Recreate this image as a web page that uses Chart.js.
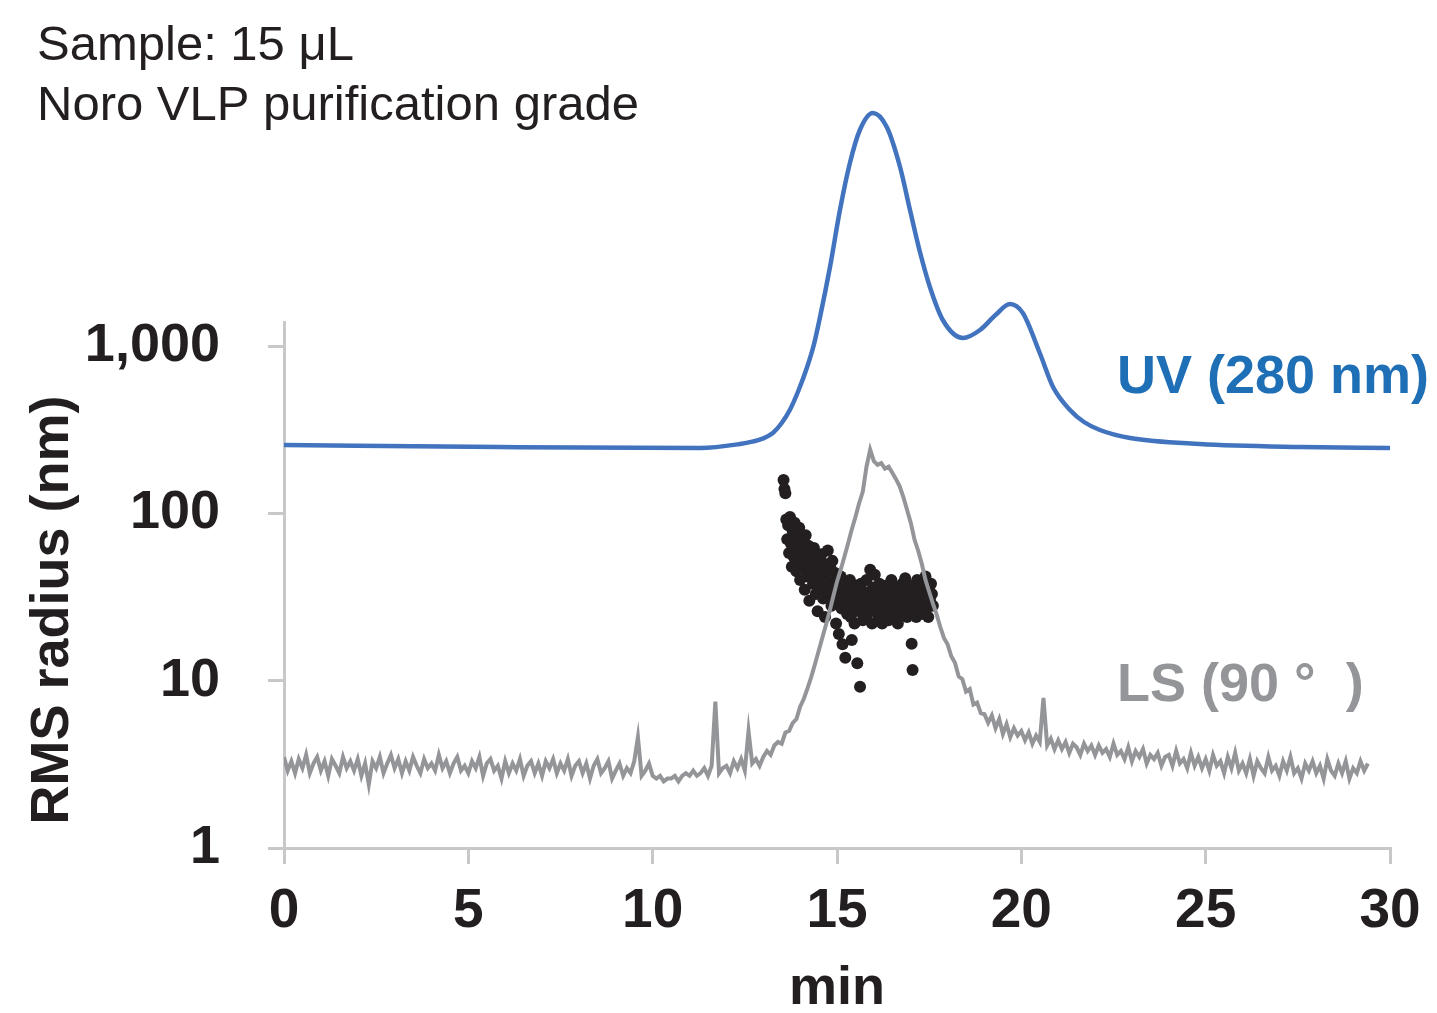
<!DOCTYPE html>
<html>
<head>
<meta charset="utf-8">
<script src="https://cdn.jsdelivr.net/npm/chart.js@4"></script>
<style>
  body { margin: 0; background: #fff; }
  #wrap { width: 1437px; height: 1013px; }
</style>
</head>
<body>
<div id="wrap"><canvas id="secChart"></canvas></div>
<script>
// axis ticks
const xTicks = [0, 5, 10, 15, 20, 25, 30];
const yTicks = [1, 10, 100, 1000];

// LS (90°) trace, one reading every 0.1 min starting at 0 min
const lsStart = 0;
const lsStep = 0.1;
const lsSignal = [
  3.5, 2.9, 3.3, 2.8, 3.4, 3.0, 3.6, 2.8, 3.2, 3.5,
  2.9, 3.3, 2.7, 3.4, 3.1, 2.8, 3.5, 3.0, 3.3, 2.9,
  3.4, 2.7, 3.2, 2.4, 3.3, 3.0, 3.5, 2.8, 3.2, 3.6,
  3.0, 3.4, 2.8, 3.3, 2.9, 3.5, 3.1, 2.8, 3.4, 3.0,
  3.2, 2.9, 3.6, 3.0, 3.3, 2.8, 3.2, 3.5, 2.9, 3.1,
  2.8, 3.3, 3.0, 3.5, 2.7, 3.2, 3.4, 2.9, 3.1, 2.6,
  3.3, 2.8, 3.2, 2.9, 3.4, 2.7, 3.1, 3.3, 2.8, 3.2,
  2.7, 3.3, 3.0, 3.4, 2.8, 3.2, 2.9, 3.4, 2.7, 3.1,
  3.3, 2.8, 3.2, 2.6, 3.1, 3.4, 2.8, 3.0, 3.3, 2.6,
  2.9, 3.2, 2.7, 3.0, 2.8, 3.3, 4.6, 2.7, 2.9, 3.2,
  2.7, 2.6, 2.7, 2.5, 2.6, 2.6, 2.7, 2.5, 2.7, 2.8,
  2.7, 2.9, 2.7, 2.8, 3.0, 2.7, 3.1, 7.5, 2.8, 3.0,
  3.1, 2.8, 3.3, 3.0, 3.4, 2.9, 5.0, 3.2, 3.4, 3.1,
  3.5, 3.8, 3.6, 4.1, 4.3, 4.2, 4.9, 5.0, 5.6, 5.9,
  7.0, 7.8, 9.0, 10.5, 12.5, 15, 18, 21.5, 26, 32,
  39, 46, 55, 66, 80, 95, 115, 135, 190, 240,
  205, 195, 200, 185, 190, 175, 160, 145, 125, 105,
  88, 70, 60, 50, 40, 34, 29, 25, 21, 18,
  16.5, 14, 12.8, 10.6, 10.2, 8.6, 8.9, 7.2, 7.4, 6.4,
  6.3, 5.6, 6.2, 5.2, 5.9, 4.8, 5.5, 4.6, 5.2, 4.7,
  5.0, 4.4, 4.9, 4.2, 4.7, 4.3, 7.9, 4.1, 4.5, 3.9,
  4.4, 3.9, 4.3, 3.7, 4.2, 4.0, 3.6, 4.2, 3.8, 4.1,
  3.6, 4.1, 3.7, 3.9, 3.5, 4.2, 3.6, 3.8, 3.4, 4.0,
  3.3, 3.8, 3.5, 3.9, 3.2, 3.6, 3.4, 3.7, 3.1, 3.5,
  3.6, 3.1, 3.8, 3.2, 3.4, 3.0, 3.7, 3.1, 3.5, 3.0,
  3.4, 2.9, 3.6, 3.1, 3.3, 2.8, 3.5, 3.0, 3.7, 2.9,
  3.2, 2.8, 3.4, 2.7, 3.3, 3.0, 2.8, 3.5, 2.9, 3.1,
  2.7, 3.3, 2.9, 3.5, 2.8, 3.0, 2.6, 3.2, 2.9, 3.3,
  2.8, 3.1, 2.6, 3.4, 2.9, 2.7, 3.2, 2.8, 3.3, 2.6,
  3.0, 2.8, 3.3, 2.9, 3.2
];

// UV (280 nm), relative absorbance
const uvTime = [0, 5.86, 11.3, 12.37, 12.7, 13.0, 13.26, 13.5, 13.72, 13.95, 14.19,
  14.37, 14.54, 14.81, 15.08, 15.35, 15.62, 15.97, 16.35, 16.71, 16.98, 17.25,
  17.52, 17.87, 18.42, 18.88, 19.3, 19.69, 20.04, 20.5, 20.86, 21.32,
  21.7, 22.13, 22.95, 24.84, 27.56, 30];
const uvSignal = [0.6, 0, -0.3, 0.9, 1.6, 2.6, 4.2, 7.2, 11.1, 16.8, 24,
  30.6, 39, 54, 71.1, 85.2, 95.1, 100.2, 96, 84, 71.1, 58.5,
  48, 38.1, 32.7, 35.1, 39.6, 42.9, 40.2, 28.2, 18, 11.1,
  7.5, 5.1, 2.7, 0.9, 0, -0.3];

// RMS radius (nm), one slice every 0.025 min starting at 13.55 min
const rmsStart = 13.55;
const rmsStep = 0.025;
const rmsRadius = [
  158, 140, 132, 92, 70, 85, 58, 95, 66, 48,
  78, 55, 88, 62, 45, 72, 52, 82, 40, 60,
  68, 47, 56, 35, 74, 50, 42, 64, 30, 53,
  46, 58, 38, 62, 44, 33, 55, 26, 48, 40,
  36, 57, 42, 31, 50, 24, 45, 35, 60, 39,
  33, 47, 28, 52, 37, 30, 44, 22, 40, 34,
  19, 31, 42, 27, 16.5, 36, 29, 13.7, 38, 25,
  33, 28, 40, 24, 17.5, 35, 30, 22, 37, 27,
  12.7, 32, 26, 9.2, 38, 29, 23, 34, 27, 31,
  40, 25, 33, 28, 46, 30, 22, 36, 27, 43,
  26, 34, 29, 24, 38, 28, 32, 22, 35, 27,
  30, 25, 37, 28, 23, 33, 29, 40, 26, 31,
  24, 35, 28, 31, 22, 36, 27, 33, 25, 38,
  29, 26, 41, 30, 24, 34, 28, 37, 25, 16.6,
  11.6, 32, 27, 36, 24, 40, 30, 26, 35, 28,
  33, 25, 38, 29, 42, 27, 31, 24, 36, 30,
  38, 33, 28
];

const FONT = "'Liberation Sans', Arial, Helvetica, sans-serif";
const INK = "#231f20";
const AXIS = "#c8c8ca";

const lsPoints = lsSignal.map((v, i) => ({x: lsStart + i * lsStep, y: v}));
const uvPoints = uvSignal.map((v, i) => ({x: uvTime[i], y: v}));
const rmsPoints = rmsRadius.map((v, i) => ({x: rmsStart + i * rmsStep, y: v}));

//text annotations
const textPlugin = {
  id: "texts",
  afterDraw(chart) {
    const ctx = chart.ctx;
    ctx.save();
    ctx.textBaseline = "alphabetic";
    ctx.textAlign = "left";
    ctx.fillStyle = INK;
    ctx.font = "49px " + FONT;
    ctx.fillText("Sample: 15 μL", 37, 60);
    ctx.fillText("Noro VLP purification grade", 37, 120);

    ctx.font = "bold 54px " + FONT;
    ctx.fillStyle = "#1f6fb6";
    ctx.fillText("UV (280 nm)", 1117, 393);
    ctx.fillStyle = "#939598";
    ctx.fillText("LS (90 °  )", 1117, 701);

    // y axis title
    ctx.fillStyle = INK;
    ctx.translate(68, 610);
    ctx.rotate(-Math.PI / 2);
    ctx.textAlign = "center";
    ctx.fillText("RMS radius (nm)", 0, 0);
    ctx.restore();
  }
};

new Chart(document.getElementById("secChart"), {
  type: "line",
  data: {
    datasets: [
      {
        label: "LS (90°)",
        data: lsPoints,
        borderColor: "#939598",
        borderWidth: 4,
        pointRadius: 0,
        tension: 0,
        yAxisID: "y",
        order: 0
      },
      {
        type: "scatter",
        label: "RMS radius",
        data: rmsPoints,
        backgroundColor: INK,
        borderColor: INK,
        pointRadius: 6,
        pointBorderWidth: 0,
        showLine: false,
        yAxisID: "y",
        order: 1
      },
      {
        label: "UV (280 nm)",
        data: uvPoints,
        borderColor: "#4273bf",
        borderWidth: 4.5,
        pointRadius: 0,
        cubicInterpolationMode: "monotone",
        yAxisID: "uv",
        clip: false,
        order: 2
      }
    ]
  },
  options: {
    responsive: true,
    maintainAspectRatio: false,
    animation: false,
    layout: {padding: {top: 322, right: 47, left: 0, bottom: 0}},
    plugins: {legend: {display: false}, tooltip: {enabled: false}},
    scales: {
      x: {
        type: "linear",
        min: 0,
        max: 30,
        afterBuildTicks: s => { s.ticks = xTicks.map(v => ({value: v})); },
        afterFit: s => { s.height = 165; },
        grid: {drawOnChartArea: false, drawTicks: true, tickLength: 16, color: AXIS, lineWidth: 3},
        border: {color: AXIS, width: 3},
        ticks: {color: INK, font: {family: FONT, size: 55, weight: "bold"}, padding: 15, maxRotation: 0},
        title: {display: true, text: "min", color: INK, font: {family: FONT, size: 54, weight: "bold", lineHeight: 0.9}, padding: 0}
      },
      y: {
        type: "logarithmic",
        min: 1,
        max: 1392,
        afterBuildTicks: s => { s.ticks = yTicks.map(v => ({value: v})); },
        afterFit: s => { s.width = 284; },
        grid: {drawOnChartArea: false, drawTicks: true, tickLength: 16, color: AXIS, lineWidth: 3},
        border: {color: AXIS, width: 3},
        ticks: {
          color: INK,
          font: {family: FONT, size: 54, weight: "bold"},
          padding: 48,
          callback: v => v.toLocaleString("en-US")
        }
      },
      uv: {
        type: "linear",
        display: false,
        min: -120.3,
        max: 37.5
      }
    }
  },
  plugins: [textPlugin]
});
</script>
</body>
</html>
